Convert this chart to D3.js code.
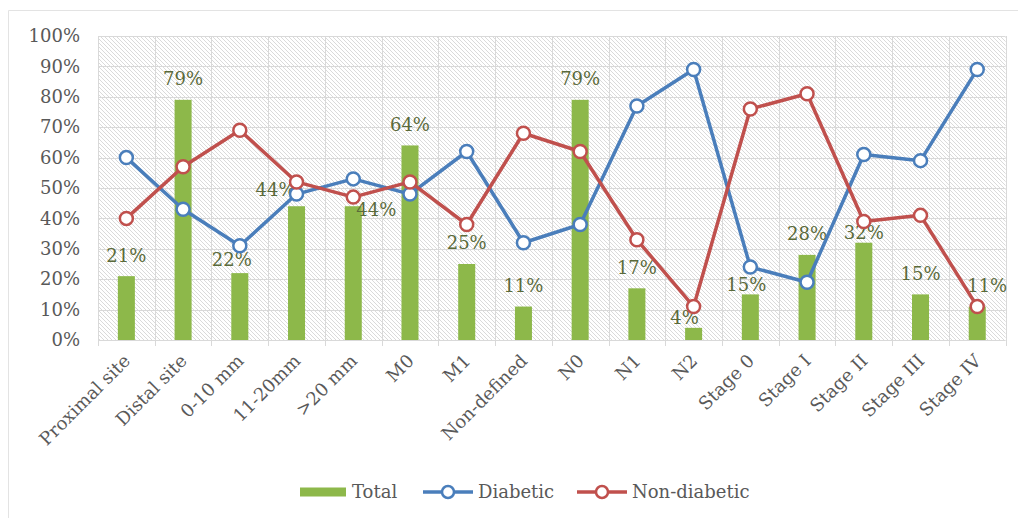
<!DOCTYPE html>
<html>
<head>
<meta charset="utf-8">
<script src="https://cdn.jsdelivr.net/npm/d3@7/dist/d3.min.js"></script>
<style>
  html, body { margin: 0; padding: 0; background: #fff; }
  svg { display: block; }
  text { font-family: "DejaVu Serif", serif; }
</style>
</head>
<body>
<svg id="chart" width="1018" height="518"></svg>
<script>
const categories = ["Proximal site", "Distal site", "0-10 mm", "11-20mm", ">20 mm", "M0", "M1", "Non-defined", "N0", "N1", "N2", "Stage 0", "Stage I", "Stage II", "Stage III", "Stage IV"];
const totalValues = [21, 79, 22, 44, 44, 64, 25, 11, 79, 17, 4, 15, 28, 32, 15, 11];
const diabeticValues = [60, 43, 31, 48, 53, 48, 62, 32, 38, 77, 89, 24, 19, 61, 59, 89];
const nonDiabeticValues = [40, 57, 69, 52, 47, 52, 38, 68, 62, 33, 11, 76, 81, 39, 41, 11];
const yTicks = [0, 10, 20, 30, 40, 50, 60, 70, 80, 90, 100];
const seriesNames = ["Total", "Diabetic", "Non-diabetic"];

const colors = { total: "#8db84a", diabetic: "#4a7ebb", nonDiabetic: "#c0504d", grid: "#d9d9d9", text: "#595959", label: "#5a6a3a" };

const svg = d3.select("#chart");
const margin = { left: 98, right: 1005.6, top: 36, bottom: 340 };

// outer chart border (left/top visible)
svg.append("path").attr("d", "M8.5,518 L8.5,10.5 L1018,10.5").attr("fill", "none").attr("stroke", "#e3e3e3").attr("stroke-width", 1);

const x = d3.scaleBand().domain(categories).range([margin.left, margin.right]).paddingInner(0).paddingOuter(0);
const y = d3.scaleLinear().domain([0, 100]).range([margin.bottom, margin.top]);

// hatch pattern
const defs = svg.append("defs");
const pat = defs.append("pattern").attr("id", "hatch").attr("patternUnits", "userSpaceOnUse").attr("width", 4).attr("height", 4);
pat.append("rect").attr("width", 4).attr("height", 4).attr("fill", "#ffffff");
pat.append("path").attr("d", "M-1,-1 L5,5 M-1,3 L1,5 M3,-1 L5,1").attr("stroke", "#dadada").attr("stroke-width", 1);

svg.append("rect")
  .attr("x", margin.left).attr("y", margin.top)
  .attr("width", margin.right - margin.left).attr("height", margin.bottom - margin.top)
  .attr("fill", "url(#hatch)");

// horizontal gridlines
svg.append("g").selectAll("line").data(yTicks).join("line")
  .attr("x1", margin.left).attr("x2", margin.right)
  .attr("y1", d => Math.round(y(d)) + 0.5).attr("y2", d => Math.round(y(d)) + 0.5)
  .attr("stroke", colors.grid).attr("stroke-width", 1);

// vertical gridlines at category boundaries (+ tick marks below axis)
const bounds = categories.map(c => x(c)).concat([margin.right]);
svg.append("g").selectAll("line").data(bounds).join("line")
  .attr("x1", d => Math.round(d) + 0.5).attr("x2", d => Math.round(d) + 0.5)
  .attr("y1", margin.top).attr("y2", margin.bottom + 6)
  .attr("stroke", colors.grid).attr("stroke-width", 1);

// y axis labels
const yAxis = d3.axisLeft(y).tickValues(yTicks).tickFormat(d => d + "%").tickSize(0).tickPadding(18);
const yg = svg.append("g").attr("transform", `translate(${margin.left},0)`).call(yAxis);
yg.select(".domain").remove();
yg.selectAll("text").attr("fill", colors.text).style("font-size", "18px").style("font-family", "DejaVu Serif, serif");

// x axis labels
const xAxis = d3.axisBottom(x).tickSize(0).tickPadding(0);
const xg = svg.append("g").attr("transform", `translate(0,${margin.bottom})`).call(xAxis);
xg.select(".domain").remove();
xg.selectAll("text")
  .attr("fill", colors.text).style("font-size", "18px").style("font-family", "DejaVu Serif, serif")
  .attr("text-anchor", "end")
  .attr("y", 0).attr("dy", 0)
  .attr("transform", "translate(5,22) rotate(-45)");

// bars
const barW = x.bandwidth() * 0.3;
svg.append("g").selectAll("rect").data(categories).join("rect")
  .attr("x", c => x(c) + x.bandwidth() / 2 - barW / 2)
  .attr("y", (c, i) => y(totalValues[i]))
  .attr("width", barW)
  .attr("height", (c, i) => y(0) - y(totalValues[i]))
  .attr("fill", colors.total);

// bar labels (with manual nudges as in the original)
const nudge = { "0-10 mm": [-8, 7], "11-20mm": [-21, 4], ">20 mm": [23, 24], "N2": [-9, 11], "Stage 0": [-4, 11], "Stage II": [0, 11], "Stage IV": [10, 0] };
svg.append("g").selectAll("text").data(categories).join("text")
  .attr("x", c => x(c) + x.bandwidth() / 2 + (nudge[c] ? nudge[c][0] : 0))
  .attr("y", (c, i) => y(totalValues[i]) - 21 + (nudge[c] ? nudge[c][1] : 0))
  .attr("dy", "0.36em")
  .attr("text-anchor", "middle")
  .attr("fill", colors.label)
  .style("font-size", "18px")
  .text((c, i) => totalValues[i] + "%");

// lines
function drawLine(values, color) {
  const line = d3.line().x((d, i) => x(categories[i]) + x.bandwidth() / 2).y(d => y(d));
  svg.append("path").datum(values).attr("d", line)
    .attr("fill", "none").attr("stroke", color).attr("stroke-width", 3.5).attr("stroke-linejoin", "round");
  svg.append("g").selectAll("circle").data(values).join("circle")
    .attr("cx", (d, i) => x(categories[i]) + x.bandwidth() / 2)
    .attr("cy", d => y(d))
    .attr("r", 6.5)
    .attr("fill", "#fff").attr("stroke", color).attr("stroke-width", 2.5);
}
drawLine(diabeticValues, colors.diabetic);
drawLine(nonDiabeticValues, colors.nonDiabetic);

// legend
const lg = svg.append("g").attr("transform", "translate(0,492)");
lg.append("rect").attr("x", 300).attr("y", -4.5).attr("width", 46).attr("height", 9).attr("fill", colors.total);
lg.append("text").attr("x", 352).attr("y", 0).attr("dy", "0.35em").attr("fill", colors.text).style("font-size", "18px").text(seriesNames[0]);
[[423, colors.diabetic, seriesNames[1]], [577, colors.nonDiabetic, seriesNames[2]]].forEach(([lx, col, name]) => {
  lg.append("line").attr("x1", lx).attr("x2", lx + 50).attr("y1", 0).attr("y2", 0).attr("stroke", col).attr("stroke-width", 3.5);
  lg.append("circle").attr("cx", lx + 25).attr("cy", 0).attr("r", 6).attr("fill", "#fff").attr("stroke", col).attr("stroke-width", 2.5);
  lg.append("text").attr("x", lx + 55).attr("y", 0).attr("dy", "0.35em").attr("fill", colors.text).style("font-size", "18px").text(name);
});
</script>
</body>
</html>
